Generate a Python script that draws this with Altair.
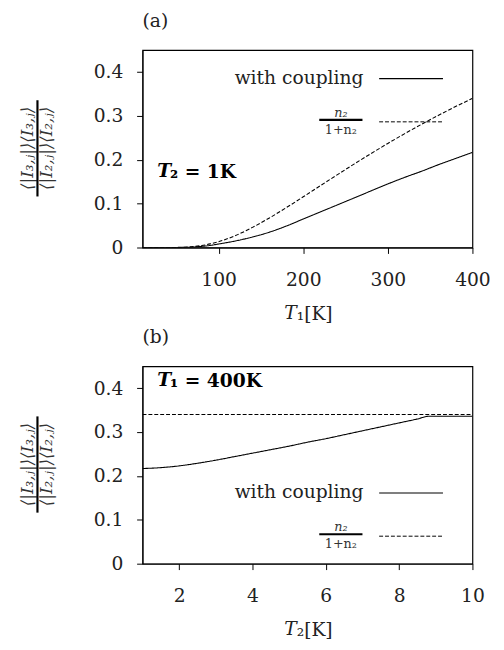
import altair as alt
import pandas as pd

# ---------------- data ----------------
T1 = [10, 20, 30, 40, 50, 60, 70, 80, 90, 100, 120, 140, 160, 180, 200,
      220, 240, 260, 280, 300, 320, 340, 360, 380, 400]
a_coupling = [0.0, 0.0, 0.0, 0.0, 0.0001, 0.0004, 0.0012, 0.0026, 0.0048, 0.008,
              0.015, 0.024, 0.035, 0.049, 0.065, 0.081, 0.097, 0.113, 0.129,
              0.145, 0.160, 0.174, 0.189, 0.203, 0.217]
a_ratio = [0.0, 0.0, 0.0, 0.00002, 0.0002, 0.0008, 0.0021, 0.0045, 0.0083, 0.0134,
           0.0274, 0.0459, 0.0674, 0.091, 0.1156, 0.1407, 0.1656, 0.1902, 0.2141,
           0.2373, 0.2597, 0.2811, 0.3016, 0.3213, 0.340]

T2 = [1, 1.5, 2, 2.5, 3, 3.5, 4, 4.5, 5, 5.5, 6, 6.5, 7, 7.5, 8, 8.5, 8.8, 9, 9.5, 10]
b_coupling = [0.217, 0.219, 0.223, 0.229, 0.236, 0.244, 0.252, 0.260, 0.268, 0.277,
              0.285, 0.294, 0.303, 0.312, 0.321, 0.330, 0.336, 0.336, 0.336, 0.336]
b_ratio = [0.340] * len(T2)

y_ticks = [0, 0.1, 0.2, 0.3, 0.4]
xa_ticks = [100, 200, 300, 400]
xb_ticks = [2, 4, 6, 8, 10]

SERIES = ["with coupling", "n2/(1+n2)"]

SERIF = "DejaVu Serif"
FS = 19
W, H = 336, 201


def frame(xs, coup, ratio):
    rows = []
    for x, v in zip(xs, coup):
        rows.append({"x": x, "v": v, "s": SERIES[0]})
    for x, v in zip(xs, ratio):
        rows.append({"x": x, "v": v, "s": SERIES[1]})
    return pd.DataFrame(rows)


def panel(df, xdom, xticks, tag, note_sub, xsub, leg_y1, leg_y2):
    base = alt.Chart(df)
    lines = base.mark_line(color="black", strokeWidth=1.1, clip=True,
                           interpolate="monotone").encode(
        x=alt.X("x:Q", scale=alt.Scale(domain=xdom, nice=False, zero=False),
                axis=alt.Axis(values=xticks, title=None, grid=False, tickSize=6,
                              labelFont=SERIF, labelFontSize=FS, labelColor="#222",
                              labelPadding=18, domainColor="black", tickColor="black",
                              labelFlush=False)),
        y=alt.Y("v:Q", scale=alt.Scale(domain=[0, 0.45], nice=False),
                axis=alt.Axis(values=y_ticks, title=None, grid=False, tickSize=6,
                              format=".1~f", labelFont=SERIF, labelFontSize=FS,
                              labelColor="#222", labelPadding=14,
                              domainColor="black", tickColor="black")),
        strokeDash=alt.StrokeDash("s:N", scale=alt.Scale(domain=SERIES, range=[[1, 0], [4, 2]]),
                                  legend=None),
        detail="s:N",
    )

    one = alt.Chart(pd.DataFrame({"k": [0]}))

    # legend
    leg_text = one.mark_text(font=SERIF, fontSize=19, align="right", baseline="middle",
                             color="#222").encode(
        x=alt.value(225), y=alt.value(leg_y1), text=alt.value("with coupling"))
    leg_line1 = one.mark_rule(color="black", strokeWidth=1.1).encode(
        x=alt.value(241), x2=alt.value(306), y=alt.value(leg_y1 + 1))
    frac_num = one.mark_text(font=SERIF, fontSize=13, fontStyle="italic", align="center",
                             baseline="middle", color="#333").encode(
        x=alt.value(202), y=alt.value(leg_y2 - 8), text=alt.value("n₂"))
    frac_bar = one.mark_rule(color="black", strokeWidth=2.2).encode(
        x=alt.value(180), x2=alt.value(224), y=alt.value(leg_y2 - 1))
    frac_den = one.mark_text(font=SERIF, fontSize=13, align="center",
                             baseline="middle", color="#333").encode(
        x=alt.value(202), y=alt.value(leg_y2 + 9), text=alt.value("1+n₂"))
    leg_line2 = one.mark_rule(color="black", strokeWidth=1, strokeDash=[4, 2]).encode(
        x=alt.value(241), x2=alt.value(306), y=alt.value(leg_y2 + 1))

    # annotation
    nx, ny, nt = note_sub
    note_T = one.mark_text(font=SERIF, fontSize=19, fontStyle="italic", fontWeight="bold",
                           align="left", baseline="middle", color="black").encode(
        x=alt.value(nx), y=alt.value(ny), text=alt.value("T"))
    note_rest = one.mark_text(font=SERIF, fontSize=19, fontWeight="bold",
                              align="left", baseline="middle", color="black").encode(
        x=alt.value(nx + 13), y=alt.value(ny + 1), text=alt.value(nt))

    # x title
    xt_T = one.mark_text(font=SERIF, fontSize=FS, fontStyle="italic", align="right",
                         baseline="middle", color="#222").encode(
        x=alt.value(157), y=alt.value(268), text=alt.value("T"))
    xt_rest = one.mark_text(font=SERIF, fontSize=FS, align="left",
                            baseline="middle", color="#222").encode(
        x=alt.value(157), y=alt.value(269), text=alt.value(xsub))

    # y title (fraction)
    yt_num = one.mark_text(font=SERIF, fontSize=17, fontStyle="italic", angle=270,
                           align="center", baseline="middle", color="#333").encode(
        x=alt.value(-117), y=alt.value(100), text=alt.value("⟨|I₃,ⱼ|⟩⟨I₃,ⱼ⟩"))
    yt_bar = one.mark_rule(color="black", strokeWidth=2.2).encode(
        x=alt.value(-107), y=alt.value(51), y2=alt.value(149))
    yt_den = one.mark_text(font=SERIF, fontSize=17, fontStyle="italic", angle=270,
                           align="center", baseline="middle", color="#333").encode(
        x=alt.value(-97), y=alt.value(100), text=alt.value("⟨|I₂,ⱼ|⟩⟨I₂,ⱼ⟩"))

    return alt.layer(lines, leg_text, leg_line1, frac_num, frac_bar, frac_den, leg_line2,
                     note_T, note_rest, xt_T, xt_rest, yt_num, yt_bar, yt_den).properties(
        width=W, height=H,
        title=alt.TitleParams(tag, anchor="start", font=SERIF, fontSize=FS,
                              fontWeight="normal", color="#222", offset=20, frame="group"),
    )


pa = panel(frame(T1, a_coupling, a_ratio), [10, 400], xa_ticks, "(a)",
           (15, 123, "₂ = 1K"), "₁[K]", 28, 72)
pb = panel(frame(T2, b_coupling, b_ratio), [1, 10], xb_ticks, "(b)",
           (15, 14, "₁ = 400K"), "₂[K]", 128, 172)

chart = alt.vconcat(pa, pb, spacing=2).properties(
    padding={"left": 10, "top": -3, "right": 5, "bottom": 5}
).configure_view(stroke="black", strokeWidth=1.2).configure_axis(
    domainWidth=1, tickWidth=1
)

chart.save("out.html", embed_options={"renderer": "svg", "actions": False})
